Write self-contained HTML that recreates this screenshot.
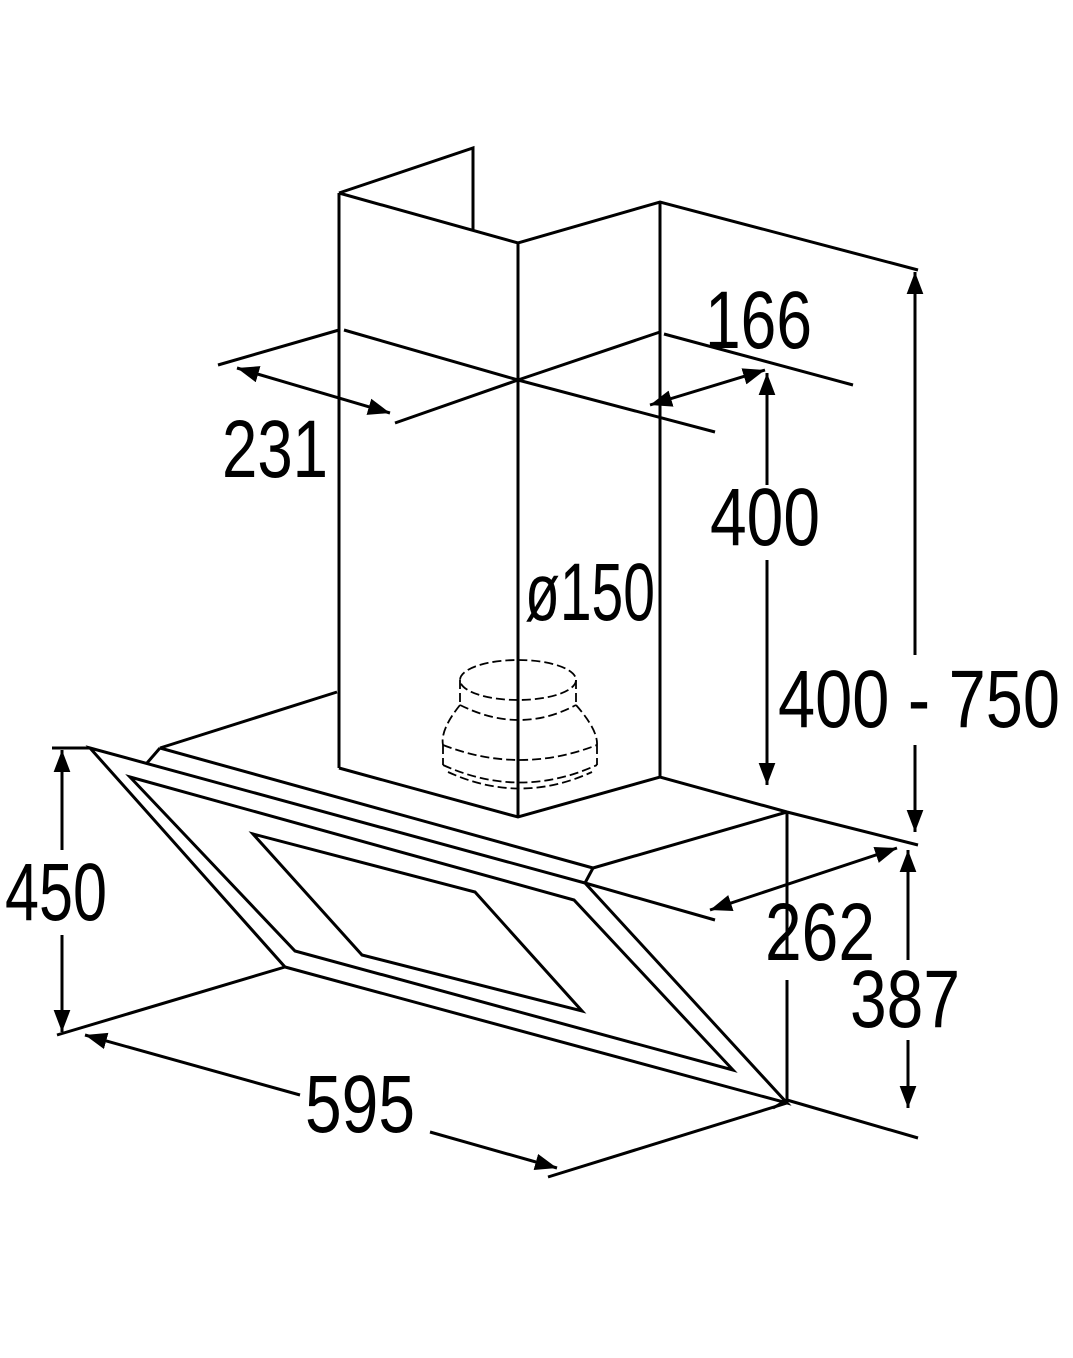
<!DOCTYPE html>
<html><head><style>html,body{margin:0;padding:0;background:#fff}</style></head><body>
<svg width="1073" height="1353" viewBox="0 0 1073 1353" xmlns="http://www.w3.org/2000/svg">
<defs>
<marker id="b" viewBox="0 0 10 10" refX="10" refY="5" markerWidth="22" markerHeight="22" markerUnits="userSpaceOnUse" orient="auto-start-reverse"><path d="M0,1.2 L10,5 L0,8.8 z" fill="#000"/></marker>
</defs>
<g fill="none" stroke="#000" stroke-width="3" stroke-linejoin="miter">
<polyline points="339,193 473,148 473,230"/>
<polyline points="339,193 518,243 660,202 918,270"/>
<line x1="339" y1="193" x2="339" y2="768"/>
<line x1="518" y1="243" x2="518" y2="817"/>
<line x1="660" y1="202" x2="660" y2="777"/>
<polyline points="339,768 518,817 660,777 787,812 918,845"/>
<line x1="218" y1="365" x2="339" y2="330"/>
<polyline points="344,330 518,380 715,432"/>
<polyline points="395,423 518,380 660,332"/>
<line x1="664" y1="334" x2="853" y2="385"/>
<line x1="337" y1="692" x2="160" y2="748"/>
<line x1="160" y1="748" x2="593" y2="868"/>
<line x1="147" y1="763" x2="160" y2="748"/>
<line x1="585" y1="883" x2="593" y2="868"/>
<line x1="593" y1="868" x2="787" y2="812"/>
<line x1="585" y1="883" x2="715" y2="920"/>
<line x1="787" y1="812" x2="787" y2="1100"/>
<line x1="787" y1="1100" x2="773" y2="1108"/>
<line x1="787" y1="1100" x2="918" y2="1138"/>
<polygon points="90,748 585,883 787,1103 285,967"/>
<polygon points="130,777 574,900 733,1070 295,951"/>
<polygon points="253,834 475,892 582,1011 362,955"/>
<line x1="285" y1="967" x2="57" y2="1035"/>
<line x1="787" y1="1103" x2="548" y2="1177"/>
<line x1="52" y1="748" x2="90" y2="748"/>
</g>
<g fill="none" stroke="#000" stroke-width="1.8" stroke-dasharray="9,4">
<ellipse cx="518" cy="680" rx="58" ry="20"/>
<path d="M460,680 L460,705 M576,680 L576,705"/>
<path d="M460,705 Q520,735 576,705"/>
<path d="M460,705 Q440,730 443,745 M576,705 Q598,730 597,745"/>
<path d="M443,745 Q520,775 597,745"/>
<path d="M443,745 L443,765 M597,745 L597,765"/>
<path d="M443,765 Q520,800 597,765"/>
<path d="M448,772 Q520,805 592,772"/>
</g>
<g stroke="#000" stroke-width="3" fill="none">
<line x1="237" y1="368" x2="390" y2="413" marker-start="url(#b)" marker-end="url(#b)"/>
<line x1="650" y1="405" x2="765" y2="370" marker-start="url(#b)" marker-end="url(#b)"/>
<line x1="767" y1="373" x2="767" y2="485" marker-start="url(#b)"/>
<line x1="767" y1="560" x2="767" y2="785" marker-end="url(#b)"/>
<line x1="915" y1="272" x2="915" y2="655" marker-start="url(#b)"/>
<line x1="915" y1="745" x2="915" y2="832" marker-end="url(#b)"/>
<line x1="710" y1="910" x2="897" y2="848" marker-start="url(#b)" marker-end="url(#b)"/>
<line x1="908" y1="850" x2="908" y2="960" marker-start="url(#b)"/>
<line x1="908" y1="1040" x2="908" y2="1108" marker-end="url(#b)"/>
<line x1="62" y1="750" x2="62" y2="850" marker-start="url(#b)"/>
<line x1="62" y1="935" x2="62" y2="1032" marker-end="url(#b)"/>
<line x1="85" y1="1035" x2="300" y2="1095" marker-start="url(#b)"/>
<line x1="430" y1="1132" x2="557" y2="1168" marker-end="url(#b)"/>
</g>
<line x1="787" y1="960" x2="787" y2="980" stroke="#fff" stroke-width="6"/>
<g font-family="Liberation Sans, sans-serif" font-size="82" fill="#000">
<text x="705" y="348" textLength="107" lengthAdjust="spacingAndGlyphs">166</text>
<text x="222" y="477" textLength="106" lengthAdjust="spacingAndGlyphs">231</text>
<text x="710" y="545" textLength="110" lengthAdjust="spacingAndGlyphs">400</text>
<text x="525" y="620" textLength="130" lengthAdjust="spacingAndGlyphs">ø150</text>
<text x="778" y="727" textLength="282" lengthAdjust="spacingAndGlyphs">400 - 750</text>
<text x="5" y="920" textLength="102" lengthAdjust="spacingAndGlyphs">450</text>
<text x="765" y="960" textLength="110" lengthAdjust="spacingAndGlyphs">262</text>
<text x="850" y="1027" textLength="110" lengthAdjust="spacingAndGlyphs">387</text>
<text x="305" y="1132" textLength="110" lengthAdjust="spacingAndGlyphs">595</text>
</g>
</svg>
</body></html>
